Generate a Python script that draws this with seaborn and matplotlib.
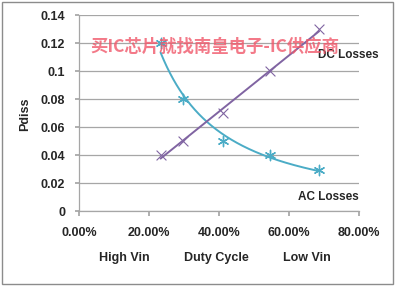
import numpy as np
import pandas as pd
import matplotlib
matplotlib.use("Agg")
import matplotlib.pyplot as plt
from matplotlib.patches import Rectangle
import seaborn as sns

# ---- data ----
duty_cycle = [0.233, 0.298, 0.412, 0.546, 0.686]
ac_losses = [0.12, 0.08, 0.05, 0.04, 0.029]
dc_losses = [0.04, 0.05, 0.07, 0.10, 0.13]
y_ticks = [0, 0.02, 0.04, 0.06, 0.08, 0.1, 0.12, 0.14]
y_tick_labels = ["0", "0.02", "0.04", "0.06", "0.08", "0.1", "0.12", "0.14"]
x_ticks = [0, 0.2, 0.4, 0.6, 0.8]
x_tick_labels = ["0.00%", "20.00%", "40.00%", "60.00%", "80.00%"]
bottom_labels = ["High Vin", "Duty Cycle", "Low Vin"]
watermark = "买IC芯片就找南皇电子-IC供应商"

sns.set_theme(style="white")
plt.rcParams['font.family'] = ['Liberation Sans', 'DejaVu Sans']

AC_COLOR = "#4bacc6"
DC_COLOR = "#8064a2"

fig = plt.figure(figsize=(3.95, 2.86), dpi=100)
ax = fig.add_axes([79/395, 1-211/286, (359-79)/395, (211-15)/286])

df = pd.DataFrame({"duty": duty_cycle, "ac": ac_losses, "dc": dc_losses})

# trendlines (Excel-like): power fit for AC, linear fit for DC
xs = np.linspace(min(duty_cycle), max(duty_cycle), 200)
b, loga = np.polyfit(np.log(duty_cycle), np.log(ac_losses), 1)
ac_fit = np.exp(loga) * xs ** b
m, c = np.polyfit(duty_cycle, dc_losses, 1)
dc_fit = m * xs + c
fit = pd.DataFrame({"x": xs, "ac": ac_fit, "dc": dc_fit})

sns.lineplot(data=fit, x="x", y="ac", ax=ax, color=AC_COLOR, lw=1.4)
sns.lineplot(data=fit, x="x", y="dc", ax=ax, color=DC_COLOR, lw=1.4)
sns.scatterplot(data=df, x="duty", y="ac", ax=ax, marker=(6, 2, 0), s=55,
                color=AC_COLOR, edgecolor=AC_COLOR, linewidth=1.0)
sns.scatterplot(data=df, x="duty", y="dc", ax=ax, marker="x", s=50,
                color=DC_COLOR, linewidth=0.8)

ax.set_xlim(0, 0.8)
ax.set_ylim(0, 0.14)
ax.set_yticks(y_ticks)
ax.set_yticklabels(y_tick_labels)
ax.set_xticks(x_ticks)
ax.set_xticklabels(x_tick_labels)
ax.grid(axis="y", color="#a6a6a6", lw=0.9)
ax.set_axisbelow(True)
for side in ["top", "right"]:
    ax.spines[side].set_visible(False)
for side in ["left", "bottom"]:
    ax.spines[side].set_color("#a6a6a6")
    ax.spines[side].set_linewidth(0.9)
ax.tick_params(axis="y", length=3, color="#a6a6a6", pad=7, labelsize=9)
ax.tick_params(axis="x", length=3.5, color="#a6a6a6", pad=8, labelsize=9)
ax.tick_params(left=True, bottom=True)
for lab in ax.get_xticklabels() + ax.get_yticklabels():
    lab.set_fontweight("bold")
ax.set_xlabel("")
ax.set_ylabel("")

fig.text(25/395, 1-114/286, "Pdiss", rotation=90, ha="center", va="center",
         fontsize=9, fontweight="bold")
for lbl, xp in zip(bottom_labels, [124, 216, 307]):
    fig.text(xp/395, 1-258/286, lbl, ha="center", va="center",
             fontsize=9, fontweight="bold")

fig.text(318/395, 1-55/286, "DC Losses", ha="left", va="center",
         fontsize=8.5, fontweight="bold")
fig.text(359/395, 1-197/286, "AC Losses", ha="right", va="center",
         fontsize=8.5, fontweight="bold")

fig.text(90/395, 1-47/286, watermark, ha="left", va="center",
         fontsize=12.5, fontweight="bold", color="#f0586a", alpha=0.8,
         family=['Noto Sans CJK SC', 'DejaVu Sans'])

fig.patches.append(Rectangle((2/395, 2/286), 391/395, 282/286,
                             transform=fig.transFigure, fill=False,
                             edgecolor="#8c8c8c", lw=1.0))

fig.savefig("out.png", dpi=100)
